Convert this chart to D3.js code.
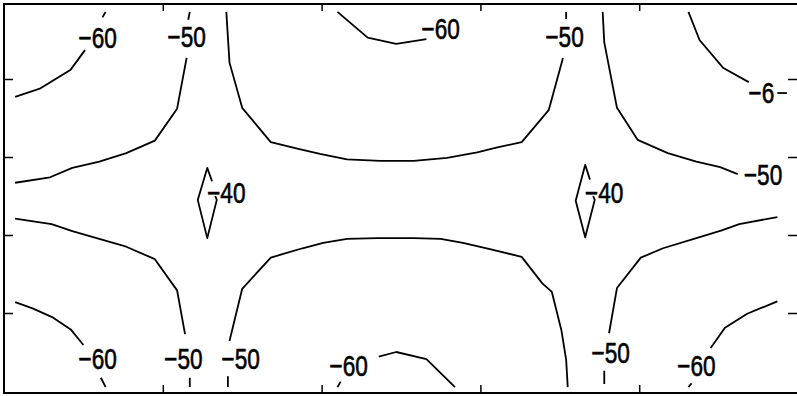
<!DOCTYPE html>
<html>
<head>
<meta charset="utf-8">
<script src="https://cdn.jsdelivr.net/npm/d3@7"></script>
<style>
  body { margin: 0; background: #fff; }
  svg { display: block; }
</style>
</head>
<body>
<svg id="chart" width="797" height="396"></svg>
<script>
// tick positions (no labels drawn on the axes)
const xTicks = [1, 2, 3, 4];
const yTicks = [1, 2, 3, 4];

// contour polylines, [x, y] in data units
// level -60
const c60TopLeftA = [[0.07,3.77],[0.23,3.88],[0.42,4.12],[0.51,4.37]];
const c60TopLeftB = [[0.62,4.79],[0.64,4.86]];
const c60TopMid = [[2.10,4.86],[2.29,4.53],[2.47,4.45],[2.66,4.51]];
const c60TopRight = [[4.31,4.86],[4.38,4.50],[4.53,4.14],[4.69,3.96]];
const c60TopRightEnd = [[4.87,3.82],[4.93,3.82]];
const c60BotLeftA = [[0.07,1.14],[0.18,1.06],[0.31,0.94],[0.42,0.79],[0.50,0.59]];
const c60BotLeftB = [[0.61,0.17],[0.64,0.05]];
const c60BotMidA = [[2.10,0.05],[2.12,0.12]];
const c60BotMidB = [[2.36,0.44],[2.47,0.50],[2.66,0.41],[2.84,0.05]];
const c60BotRightA = [[4.87,1.15],[4.68,0.99],[4.54,0.81],[4.45,0.55]];
const c60BotRightB = [[4.33,0.10],[4.31,0.05]];

// level -50
const c50LeftTopA = [[0.07,2.67],[0.29,2.74],[0.43,2.86],[0.60,2.94],[0.77,3.05],[0.95,3.21],[1.09,3.62],[1.15,4.27]];
const c50LeftTopB = [[1.16,4.76],[1.17,4.86]];
const c50TopMidA = [[1.40,4.86],[1.42,4.21],[1.50,3.63],[1.68,3.19],[1.86,3.10],[1.99,3.04],[2.16,2.97],[2.37,2.95],[2.58,2.95],[2.79,2.99],[2.98,3.06],[3.10,3.12],[3.26,3.19],[3.43,3.60],[3.52,4.27]];
const c50TopMidB = [[3.54,4.77],[3.54,4.86]];
const c50RightTop = [[3.77,4.86],[3.78,4.47],[3.86,3.63],[3.99,3.22],[4.18,3.05],[4.36,2.94],[4.51,2.87],[4.62,2.78]];
const c50LeftBotA = [[0.07,2.21],[0.30,2.14],[0.43,2.05],[0.60,1.95],[0.77,1.85],[0.95,1.69],[1.09,1.29],[1.14,0.73]];
const c50LeftBotB = [[1.17,0.17],[1.17,0.05]];
const c50BotMidA = [[1.41,0.05],[1.41,0.19]];
const c50BotMidB = [[1.42,0.64],[1.50,1.31],[1.68,1.71],[1.78,1.77],[1.88,1.83],[2.01,1.90],[2.16,1.95],[2.35,1.96],[2.58,1.96],[2.75,1.95],[2.89,1.90],[3.06,1.82],[3.26,1.72],[3.39,1.38],[3.45,1.27],[3.51,0.78],[3.54,0.40],[3.55,0.05]];
const c50RightBotA = [[4.87,2.23],[4.63,2.14],[4.52,2.06],[4.36,1.96],[4.15,1.83],[4.01,1.71],[3.86,1.32],[3.81,0.74]];
const c50RightBotB = [[3.78,0.26],[3.78,0.09]];

// level -40
const c40Left = [[1.31,2.69],[1.28,2.86],[1.22,2.45],[1.28,1.96],[1.34,2.45],[1.33,2.50]];
const c40Right = [[3.69,2.71],[3.66,2.90],[3.60,2.44],[3.66,1.97],[3.72,2.45],[3.71,2.50]];

const contourLines = [
  c60TopLeftA, c60TopLeftB, c60TopMid, c60TopRight, c60TopRightEnd,
  c60BotLeftA, c60BotLeftB, c60BotMidA, c60BotMidB, c60BotRightA, c60BotRightB,
  c50LeftTopA, c50LeftTopB, c50TopMidA, c50TopMidB, c50RightTop,
  c50LeftBotA, c50LeftBotB, c50BotMidA, c50BotMidB, c50RightBotA, c50RightBotB,
  c40Left, c40Right
];

// inline contour labels
const labelText = ["\u221260","\u221250","\u221260","\u221250","\u22126","\u221250",
                   "\u221240","\u221240",
                   "\u221260","\u221250","\u221250","\u221260","\u221250","\u221260"];
const labelX = [0.59, 1.15, 2.75, 3.53, 4.77, 4.78, 1.40, 3.78, 0.59, 1.13, 1.49, 2.17, 3.82, 4.36];
const labelY = [4.53, 4.54, 4.65, 4.54, 3.82, 2.77, 2.55, 2.55, 0.41, 0.41, 0.41, 0.32, 0.49, 0.32];

const svg = d3.select("#chart");

var x = d3.scaleLinear().domain([0, 5]).range([4, 798]);
var y = d3.scaleLinear().domain([0, 5]).range([391, 1]);

// frame
svg.append("rect")
  .attr("x", 4).attr("y", 4)
  .attr("width", 800).attr("height", 389)
  .attr("fill", "none")
  .attr("stroke", "#000")
  .attr("stroke-width", 2);

// inward ticks on all four sides
const tickStyle = g => {
  g.select(".domain").remove();
  g.selectAll(".tick line").attr("stroke", "#000").attr("stroke-width", 1.5);
};
svg.append("g").attr("transform", "translate(0,393)")
  .call(d3.axisBottom(x).tickValues(xTicks).tickSize(-8).tickFormat(""))
  .call(tickStyle);
svg.append("g").attr("transform", "translate(0,4)")
  .call(d3.axisTop(x).tickValues(xTicks).tickSize(-7).tickFormat(""))
  .call(tickStyle);
svg.append("g").attr("transform", "translate(4,0)")
  .call(d3.axisLeft(y).tickValues(yTicks).tickSize(-9).tickFormat(""))
  .call(tickStyle);
svg.append("g").attr("transform", "translate(798,0)")
  .call(d3.axisRight(y).tickValues(yTicks).tickSize(-10).tickFormat(""))
  .call(tickStyle);

// contour lines
const line = d3.line().x(d => x(d[0])).y(d => y(d[1]));
svg.append("g")
  .selectAll("path")
  .data(contourLines)
  .enter()
  .append("path")
  .attr("d", line)
  .attr("fill", "none")
  .attr("stroke", "#000")
  .attr("stroke-width", 1.8)
  .attr("stroke-linejoin", "round");

// labels, squeezed horizontally to get the narrow plotter look
svg.append("g")
  .selectAll("text")
  .data(labelText)
  .enter()
  .append("text")
  .attr("transform", (d, i) => "translate(" + x(labelX[i]) + "," + y(labelY[i]) + ") scale(0.78,1)")
  .attr("dy", "0.36em")
  .attr("text-anchor", "middle")
  .style("font-family", "'Liberation Sans', Arial, sans-serif")
  .style("font-size", "29px")
  .attr("fill", "#000")
  .attr("stroke", "#000")
  .attr("stroke-width", 0.6)
  .text(d => d);
</script>
</body>
</html>
